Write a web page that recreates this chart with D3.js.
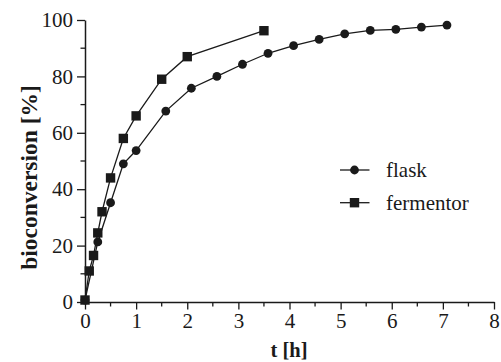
<!DOCTYPE html>
<html><head><meta charset="utf-8">
<script src="https://cdn.jsdelivr.net/npm/d3@7"></script>
<style>body{margin:0;background:#fff}svg{display:block}text{font-family:"Liberation Serif",serif}</style>
</head><body>
<script>
const flaskT = [0, 0.25, 0.5, 0.75, 1.0, 1.58, 2.08, 2.58, 3.08, 3.58, 4.08, 4.58, 5.08, 5.58, 6.08, 6.58, 7.08];
const flaskY = [0.7, 21.3, 35.2, 49, 53.7, 67.7, 75.8, 80, 84.3, 88.2, 90.9, 93.1, 95.1, 96.3, 96.7, 97.5, 98.2];
const fermT = [0, 0.083, 0.167, 0.25, 0.333, 0.5, 0.75, 1.0, 1.5, 2.0, 3.5];
const fermY = [0.7, 11, 16.5, 24.5, 32, 44, 58, 66, 79, 87, 96.2];
const xTicks = [0, 1, 2, 3, 4, 5, 6, 7, 8];
const yTicks = [0, 20, 40, 60, 80, 100];
const seriesNames = ["flask", "fermentor"];

const W = 501, H = 362;
const col = "#1a1a1a";
const font = "Liberation Serif";
const svg = d3.select("body").append("svg").attr("width", W).attr("height", H).attr("font-family", font);
const x = d3.scaleLinear().domain([0, 8]).range([85, 494]);
const y = d3.scaleLinear().domain([0, 100]).range([302, 20]);

const xMinor = d3.range(0.5, 8, 1);
const yMinor = d3.range(10, 100, 20);
svg.append("g").selectAll("line").data(xMinor).join("line")
  .attr("x1", d => x(d)).attr("x2", d => x(d)).attr("y1", y(0)).attr("y2", y(0) + 4.5)
  .attr("stroke", col).attr("stroke-width", 1.3);
svg.append("g").selectAll("line").data(yMinor).join("line")
  .attr("y1", d => y(d)).attr("y2", d => y(d)).attr("x1", x(0)).attr("x2", x(0) - 4.5)
  .attr("stroke", col).attr("stroke-width", 1.3);

const xAxis = svg.append("g").attr("transform", `translate(0,${y(0)})`)
  .call(d3.axisBottom(x).tickValues(xTicks).tickSize(7.5).tickPadding(4).tickSizeOuter(0));
const yAxis = svg.append("g").attr("transform", `translate(${x(0)},0)`)
  .call(d3.axisLeft(y).tickValues(yTicks).tickSize(8).tickPadding(4).tickSizeOuter(0));
[xAxis, yAxis].forEach(g => {
  g.attr("font-family", font).attr("font-size", 21);
  g.select(".domain").attr("stroke", col).attr("stroke-width", 1.5);
  g.selectAll(".tick line").attr("stroke", col).attr("stroke-width", 1.3);
  g.selectAll(".tick text").attr("fill", col).attr("font-family", font).attr("font-size", 21);
});

const line = d3.line().x(d => x(d[0])).y(d => y(d[1]));
const flask = flaskT.map((t, i) => [t, flaskY[i]]);
const ferm = fermT.map((t, i) => [t, fermY[i]]);

svg.append("path").datum(flask).attr("d", line).attr("fill", "none").attr("stroke", col).attr("stroke-width", 1.3);
svg.append("path").datum(ferm).attr("d", line).attr("fill", "none").attr("stroke", col).attr("stroke-width", 1.3);

svg.append("g").selectAll("circle").data(flask).join("circle")
  .attr("cx", d => x(d[0])).attr("cy", d => y(d[1])).attr("r", 4.4).attr("fill", col);
const s = 9.4;
svg.append("g").selectAll("rect").data(ferm).join("rect")
  .attr("x", d => x(d[0]) - s / 2).attr("y", d => y(d[1]) - s / 2).attr("width", s).attr("height", s).attr("fill", col);

const leg = svg.append("g");
const legY = [170, 202.7];
seriesNames.forEach((n, i) => {
  const g = leg.append("g").attr("transform", `translate(0,${legY[i]})`);
  g.append("line").attr("x1", 340).attr("x2", 369.5).attr("y1", 0).attr("y2", 0).attr("stroke", col).attr("stroke-width", 1.3);
  if (i === 0) g.append("circle").attr("cx", 354.5).attr("cy", 0).attr("r", 4.4).attr("fill", col);
  else g.append("rect").attr("x", 354.5 - s / 2).attr("y", -s / 2).attr("width", s).attr("height", s).attr("fill", col);
  g.append("text").attr("x", 386).attr("y", 7).text(n)
    .attr("fill", col).attr("font-family", font).attr("font-size", 21);
});

svg.append("text").attr("x", 289).attr("y", 357).attr("text-anchor", "middle").text("t [h]")
  .attr("fill", col).attr("font-family", font).attr("font-size", 20.5).attr("font-weight", "bold");
svg.append("text").attr("transform", `translate(36.5,177.5) rotate(-90)`).attr("text-anchor", "middle").text("bioconversion [%]")
  .attr("fill", col).attr("font-family", font).attr("font-size", 23.5).attr("font-weight", "bold");
</script>
</body></html>
